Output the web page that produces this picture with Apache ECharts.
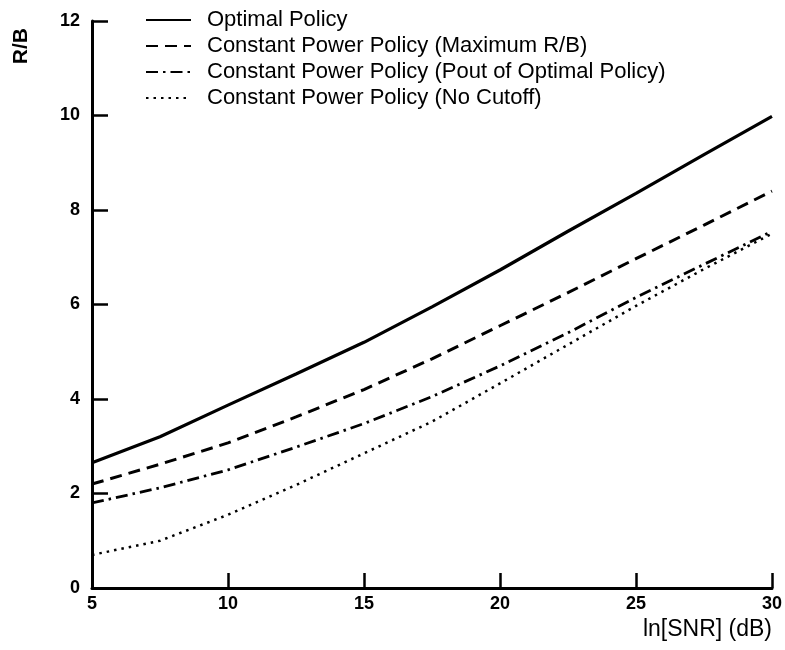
<!DOCTYPE html>
<html>
<head>
<meta charset="utf-8">
<script src="https://cdn.jsdelivr.net/npm/echarts@6/dist/echarts.min.js"></script>
<style>
  html, body { margin: 0; padding: 0; background: #fff; }
  #chart { width: 785px; height: 650px; }
</style>
</head>
<body>
<div id="chart"></div>
<script>
// SNR values (dB) at which each policy's rate is sampled
const snrDb = [5, 7.5, 10, 12.5, 15, 17.5, 20, 22.5, 25, 27.5, 30];

// Spectral efficiency R/B for each power policy
const optimalPolicy   = [2.65, 3.20, 3.87, 4.53, 5.20, 5.95, 6.73, 7.55, 8.35, 9.17, 9.98];
const maxRatePolicy   = [2.20, 2.62, 3.07, 3.62, 4.20, 4.85, 5.55, 6.25, 6.97, 7.68, 8.40];
const poutPolicy      = [1.80, 2.12, 2.50, 2.98, 3.48, 4.05, 4.70, 5.40, 6.15, 6.85, 7.55];
const noCutoffPolicy  = [0.70, 1.00, 1.55, 2.18, 2.85, 3.52, 4.33, 5.15, 5.97, 6.75, 7.50];

const seriesNames = [
  'Optimal Policy',
  'Constant Power Policy (Maximum R/B)',
  'Constant Power Policy (Pout of Optimal Policy)',
  'Constant Power Policy (No Cutoff)'
];

const xTicks = [5, 10, 15, 20, 25, 30];
const yTicks = [0, 2, 4, 6, 8, 10, 12];

const pair = vals => snrDb.map((x, i) => [x, vals[i]]);

const lineTypes = ['solid', [12, 7], [12, 5, 2.5, 5], [2.5, 5]];
const lineWidths = [3.2, 3, 2.8, 2.5];
const allValues = [optimalPolicy, maxRatePolicy, poutPolicy, noCutoffPolicy];

const chart = echarts.init(document.getElementById('chart'), null, { renderer: 'canvas' });

chart.setOption({
  backgroundColor: '#ffffff',
  animation: false,
  textStyle: { fontFamily: 'Liberation Sans, Arial, sans-serif', color: '#000' },
  grid: { left: 92, right: 13, top: 21, bottom: 62, containLabel: false },
  legend: {
    show: true,
    orient: 'vertical',
    left: 145,
    top: 9,
    padding: 0,
    itemWidth: 45,
    itemHeight: 14,
    itemGap: 4,
    data: seriesNames,
    itemStyle: { opacity: 0 },
    textStyle: {
      fontSize: 22,
      lineHeight: 22,
      color: '#000',
      padding: [0, 0, 0, 11]
    }
  },
  xAxis: {
    type: 'value',
    min: 5,
    max: 30,
    interval: 5,
    name: 'ln[SNR] (dB)',
    nameLocation: 'end',
    nameGap: 0,
    nameTextStyle: {
      fontSize: 23,
      color: '#000',
      align: 'right',
      verticalAlign: 'top',
      padding: [30, 0, 0, 0]
    },
    axisLine: { lineStyle: { color: '#000', width: 3 } },
    axisTick: { inside: true, length: 15, lineStyle: { color: '#000', width: 2.5 } },
    axisLabel: {
      fontSize: 18,
      fontWeight: 'bold',
      color: '#000',
      margin: 7,
      formatter: v => xTicks.includes(v) ? String(v) : ''
    },
    splitLine: { show: false }
  },
  yAxis: {
    type: 'value',
    min: 0,
    max: 12,
    interval: 2,
    axisLine: { show: true, lineStyle: { color: '#000', width: 3 } },
    axisTick: { show: true, inside: true, length: 16, lineStyle: { color: '#000', width: 2.5 } },
    axisLabel: {
      fontSize: 18,
      fontWeight: 'bold',
      color: '#000',
      margin: 12,
      formatter: v => yTicks.includes(v) ? String(v) : ''
    },
    splitLine: { show: false }
  },
  graphic: [{
    type: 'text',
    left: 11,
    top: 28,
    style: {
      text: 'R/B',
      font: 'bold 21px Liberation Sans, Arial, sans-serif',
      fill: '#000'
    },
    rotation: Math.PI / 2
  }],
  series: seriesNames.map((name, i) => ({
    name,
    type: 'line',
    data: pair(allValues[i]),
    symbol: 'none',
    smooth: false,
    lineStyle: { color: '#000', width: lineWidths[i], type: lineTypes[i], cap: 'butt' },
    itemStyle: { color: '#000' }
  }))
});
</script>
</body>
</html>
